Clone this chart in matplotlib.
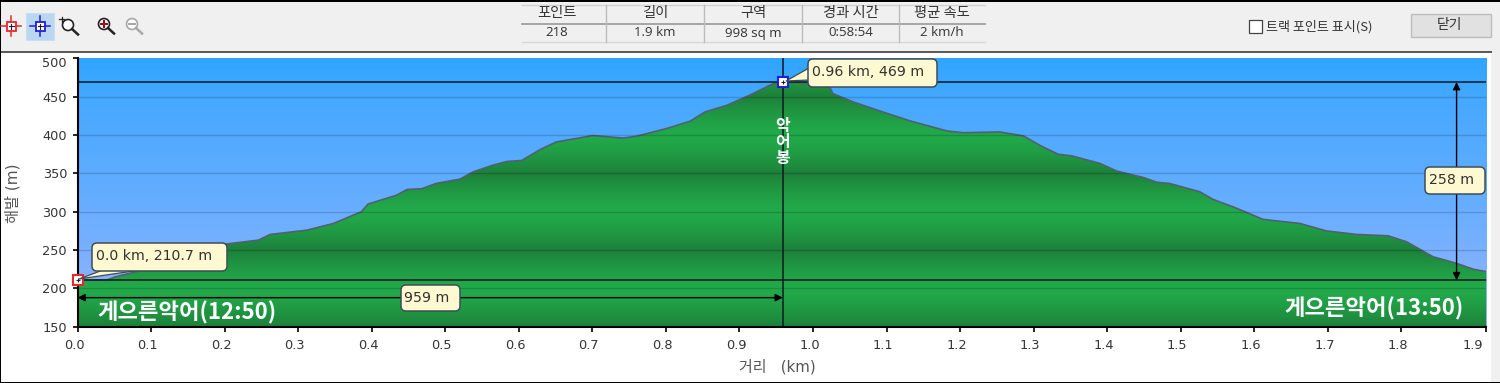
import numpy as np
import matplotlib
matplotlib.use('Agg')
import matplotlib.pyplot as plt
from matplotlib.patches import Rectangle, Circle, Polygon, FancyBboxPatch
from matplotlib.transforms import ScaledTranslation

plt.rcParams['font.family'] = ['DejaVu Sans', 'Noto Sans CJK KR']

# elevation profile
distance_km = [0.0, 0.04, 0.051, 0.085, 0.203, 0.246, 0.262, 0.312, 0.348, 0.386, 0.395, 0.434,
               0.448, 0.468, 0.488, 0.52, 0.538, 0.565, 0.584, 0.604, 0.629, 0.651, 0.701, 0.742,
               0.76, 0.801, 0.833, 0.853, 0.883, 0.914, 0.946, 0.959, 0.991, 1.023, 1.027, 1.055,
               1.095, 1.132, 1.182, 1.204, 1.254, 1.286, 1.308, 1.333, 1.352, 1.39, 1.413, 1.449,
               1.467, 1.485, 1.526, 1.544, 1.571, 1.612, 1.662, 1.698, 1.739, 1.782, 1.807, 1.843,
               1.875, 1.898, 1.915]
elevation_m = [210.7, 211, 215, 223, 258, 263, 270.4, 276, 284.7, 300, 310, 321.6,
               329, 330, 337, 342.5, 352, 360.7, 365.5, 366.8, 381, 391, 399.3, 396,
               398.4, 408.5, 418, 430, 438.8, 452, 467, 469, 468, 462, 454, 443,
               430, 418.4, 405.3, 403, 404, 398.8, 386.7, 375, 372.8, 363, 353, 344.7,
               338.5, 336.8, 326, 316, 306.4, 290, 284.7, 275, 270.4, 268.6, 260.8, 241.3,
               232.7, 225, 222]

x_ticks = [0.0, 0.1, 0.2, 0.3, 0.4, 0.5, 0.6, 0.7, 0.8, 0.9, 1.0, 1.1, 1.2, 1.3, 1.4, 1.5, 1.6, 1.7, 1.8, 1.915]
x_labels = ['0.0', '0.1', '0.2', '0.3', '0.4', '0.5', '0.6', '0.7', '0.8', '0.9', '1.0', '1.1', '1.2',
            '1.3', '1.4', '1.5', '1.6', '1.7', '1.8', '1.9']
y_ticks = [150, 200, 250, 300, 350, 400, 450, 500]

table_headers = ['포인트', '길이', '구역', '경과 시간', '평균 속도']
table_values = ['218', '1.9 km', '998 sq m', '0:58:54', '2 km/h']

start_km, start_m = 0.0, 210.7
peak_km, peak_m = 0.959, 469.0
arrow_km = 1.875
arrow_h_m = 188.0

ko = ['Noto Sans CJK KR', 'DejaVu Sans']

W, H = 1500, 383
fig = plt.figure(figsize=(W / 100, H / 100), dpi=100, facecolor='white')

# window chrome, in pixel coordinates
bg = fig.add_axes([0, 0, 1, 1])
bg.set_xlim(0, W)
bg.set_ylim(H, 0)
bg.axis('off')
bg.add_patch(Rectangle((0, 0), W, 51, fc='#f0f0f0', ec='none'))
bg.add_patch(Rectangle((1491, 51), 9, H - 51, fc='#f0f0f0', ec='none'))
bg.add_patch(Rectangle((0, 51), 1492, 2, fc='#5a5a5a', ec='none'))
bg.add_patch(Rectangle((0, 0), W, 1.5, fc='black', ec='none'))
bg.add_patch(Rectangle((0, 0), 1.2, H, fc='black', ec='none'))
bg.add_patch(Rectangle((0, 381.6), W, 1.4, fc='black', ec='none'))


def target_icon(cx, cy, color):
    bg.plot([cx - 10, cx + 10], [cy, cy], color=color, lw=1.1)
    bg.plot([cx, cx], [cy - 10, cy + 10], color=color, lw=1.1)
    bg.add_patch(Rectangle((cx - 4.5, cy - 4.5), 9, 9, fc='white', ec=color, lw=1.3, zorder=3))
    bg.plot([cx - 2.5, cx + 2.5], [cy, cy], color='#222222', lw=0.8, zorder=4)
    bg.plot([cx, cx], [cy - 2.5, cy + 2.5], color='#222222', lw=0.8, zorder=4)


def lens_icon(cx, cy, color, sign_color, vertical=True):
    bg.add_patch(Circle((cx, cy), 5.5, fc='white', ec=color, lw=1.2, zorder=3))
    bg.plot([cx + 4, cx + 10], [cy + 4, cy + 9.5], color=color, lw=1.8, zorder=3)
    bg.plot([cx - 3, cx + 3], [cy, cy], color=sign_color, lw=1.5, zorder=4)
    if vertical:
        bg.plot([cx, cx], [cy - 3, cy + 3], color=sign_color, lw=1.5, zorder=4)


bg.add_patch(Rectangle((26, 13), 28, 27, fc='#b9d7f1', ec='#c8dff3', lw=0.8))
target_icon(11, 26, '#e8262c')
target_icon(40, 26, '#2020d8')
lens_icon(68, 25, '#222222', 'white', vertical=False)
bg.plot([59, 64], [19, 19], color='#222222', lw=0.9)
bg.plot([61.5, 61.5], [16.5, 21.5], color='#222222', lw=0.9)
lens_icon(104, 24, '#222222', '#a01020')
lens_icon(132, 24, '#a8a8a8', '#a8a8a8', vertical=False)

col_edges = [522, 606, 704, 802, 899, 985]
for i in range(5):
    cx = (col_edges[i] + col_edges[i + 1]) / 2 - (7 if i == 0 else 0)
    bg.text(cx, 13.5, table_headers[i], ha='center', va='center', fontsize=10.3, color='#333333', family=ko)
    bg.text(cx, 33, table_values[i], ha='center', va='center', fontsize=9.5, color='#333333', family='Open Sans')
for yy, col, lw in [(5, '#d2d2d2', 1), (24, '#a0a0a0', 1.3), (42, '#d8d8d8', 1)]:
    bg.plot([522, 985], [yy, yy], color=col, lw=lw)
for xx in col_edges[1:-1]:
    bg.plot([xx, xx], [5, 42], color='#bcbcbc', lw=1)

bg.add_patch(Rectangle((1249, 20), 13, 13, fc='white', ec='#444444', lw=0.9))
bg.text(1266, 27, '트랙 포인트 표시(S)', ha='left', va='center', fontsize=9.4, color='#333333', family=ko)
bg.add_patch(Rectangle((1411, 14), 80, 23, fc='#e1e1e1', ec='#bdbdbd', lw=1))
bg.text(1450, 25.5, '닫기', ha='center', va='center', fontsize=10, color='#333333', family=ko)

# chart
x_max = x_ticks[-1]
ax = fig.add_axes([77.5 / W, 1 - 326.8 / H, (1486 - 77.5) / W, (326.8 - 58.3) / H])
ax.patch.set_alpha(0)

grad_y = np.linspace(150, 500, 351)
sky = np.column_stack([
    np.interp(grad_y, [150, 210, 300, 450, 500], [140, 135, 105, 69, 47]),
    np.interp(grad_y, [150, 210, 300, 450, 500], [178, 178, 174, 168, 165]),
    np.full_like(grad_y, 255),
]) / 255
band = (np.abs(((grad_y - 150) % 100) - 50) / 50) ** 1.4  # 1 at dark edge of a band, 0 at bright centre
ground = np.column_stack([34 - 5 * band, 170 - 42 * band, 74 - 16 * band]) / 255
ax.imshow(sky[:, None, :], extent=[0, x_max, 150, 500], origin='lower', aspect='auto', zorder=0)
im = ax.imshow(ground[:, None, :], extent=[0, x_max, 150, 500], origin='lower', aspect='auto', zorder=1)
outline = Polygon(list(zip(distance_km, elevation_m)) + [(x_max, 150), (0, 150)], closed=True,
                  transform=ax.transData, fc='none', ec='none')
ax.add_patch(outline)
im.set_clip_path(outline)
ax.plot(distance_km, elevation_m, color='#4f6270', lw=1.2, zorder=2)

ax.set_xlim(0, x_max)
ax.set_ylim(150, 500)

for v in y_ticks[1:-1]:
    ax.axhline(v, color='black', alpha=0.16, lw=1, zorder=3)

for spine in ('top', 'right'):
    ax.spines[spine].set_visible(False)
for spine in ('left', 'bottom'):
    ax.spines[spine].set_linewidth(1.5)
    ax.spines[spine].set_zorder(6)

ax.set_xticks(x_ticks)
ax.set_xticklabels(x_labels)
ax.set_yticks(y_ticks)
ax.tick_params(axis='both', length=3.5, width=1.2, labelsize=9.3, labelcolor='#333333', pad=5)
ax.tick_params(axis='y', pad=4)
for lab in ax.get_xticklabels():
    lab.set_transform(lab.get_transform() + ScaledTranslation(-3.5 / 100, 0, fig.dpi_scale_trans))
last = ax.get_xticklabels()[-1]
last.set_ha('right')
last.set_transform(last.get_transform() + ScaledTranslation(0.5 / 100, 0, fig.dpi_scale_trans))
top = ax.get_yticklabels()[-1]
top.set_transform(top.get_transform() + ScaledTranslation(0, -4 / 100, fig.dpi_scale_trans))

bg.text(777, 367, '거리   (km)', ha='center', va='center', fontsize=10.8, color='#555555')
bg.text(13, 193, '해발 (m)', ha='center', va='center', rotation=90, fontsize=11, color='#555555')

# crosshairs and measuring arrows
ax.axhline(peak_m, color='#101820', lw=1.1, zorder=4)
ax.axhline(start_m, color='#101820', lw=1.1, zorder=4)
ax.axvline(peak_km, color='#101820', lw=1.1, zorder=4)
arrow = dict(arrowstyle='<|-|>', color='black', lw=1, shrinkA=0, shrinkB=0, mutation_scale=11)
ax.annotate('', xy=(start_km, arrow_h_m), xytext=(peak_km, arrow_h_m), arrowprops=arrow, zorder=4)
ax.annotate('', xy=(arrow_km, peak_m), xytext=(arrow_km, start_m), arrowprops=arrow, zorder=4)

ax.plot([start_km], [start_m], marker='s', ms=7, mfc='white', mec='#e8262c', mew=1.5, clip_on=False, zorder=7)
ax.plot([start_km], [start_m], marker='+', ms=3.5, mec='#222222', mew=0.8, clip_on=False, zorder=8)
ax.plot([peak_km], [peak_m], marker='s', ms=7, mfc='white', mec='#2020d8', mew=1.5, zorder=7)
ax.plot([peak_km], [peak_m], marker='+', ms=3.5, mec='#222222', mew=0.8, zorder=8)

ax.text(peak_km, 391.5, '악\n어\n봉', ha='center', va='center', fontsize=11.5, color='white', fontweight='bold',
        family=ko, linespacing=1.0, zorder=5)

# overlay in pixel coordinates for call-outs and the handwritten labels
top_ax = fig.add_axes([0, 0, 1, 1])
top_ax.set_xlim(0, W)
top_ax.set_ylim(H, 0)
top_ax.axis('off')


def tooltip(text, x0, y0, x1, y1, text_x, wedge=None):
    if wedge is not None:
        top_ax.add_patch(Polygon(wedge, closed=True, fc='#fff9d2', ec='#3d4d58', lw=0.9, zorder=3))
    top_ax.add_patch(FancyBboxPatch((x0 + 4, y0 + 4), x1 - x0 - 8, y1 - y0 - 8,
                                    boxstyle='round,pad=4,rounding_size=5', mutation_aspect=1,
                                    fc='#fff9d2', ec='#3d4d58', lw=1.1, zorder=4))
    top_ax.text(text_x, (y0 + y1) / 2 - 0.5, text, ha='left', va='center', fontsize=10.2, color='#333333', zorder=5)


tooltip('0.96 km, 469 m', 808, 59, 937, 87, 811.7, wedge=[(786, 81), (809, 68), (809, 80)])
tooltip('0.0 km, 210.7 m', 92, 243, 227, 271, 96, wedge=[(79, 279), (103, 270), (140, 270)])
tooltip('258 m', 1425, 167, 1485, 194, 1429)
tooltip('959 m', 401, 285, 460, 311, 404)

top_ax.text(97, 313, '게으른악어(12:50)', ha='left', va='center', fontsize=16, color='white', fontweight='bold', family=ko)
top_ax.text(1464, 309, '게으른악어(13:50)', ha='right', va='center', fontsize=16, color='white', fontweight='bold', family=ko)

fig.savefig('out.png', dpi=100)
